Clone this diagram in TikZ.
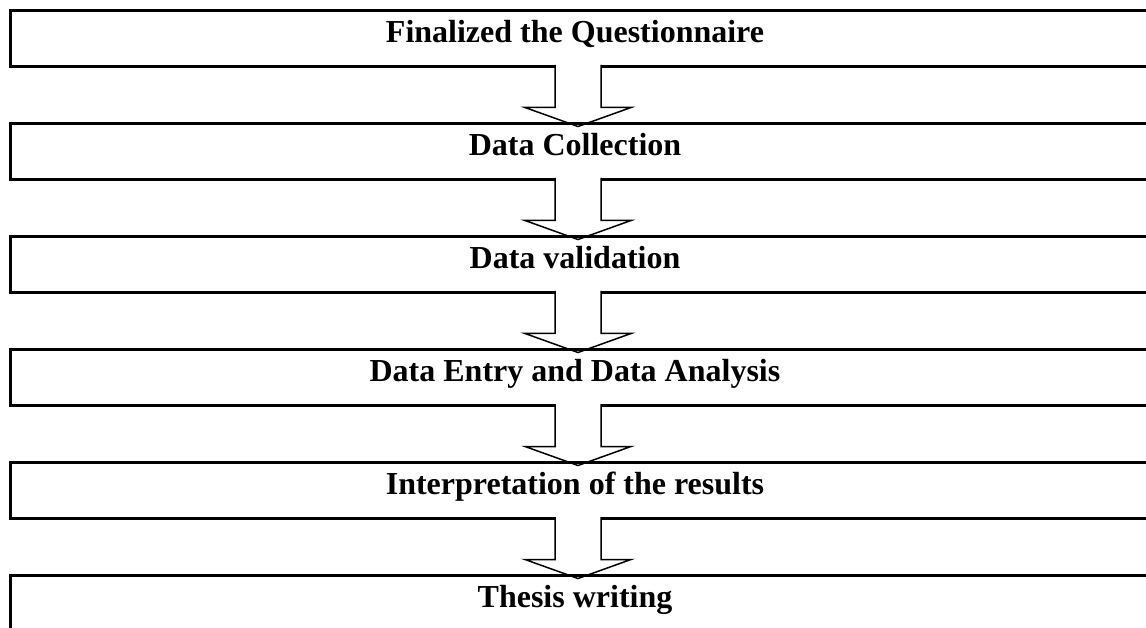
\documentclass[tikz,border=0pt]{standalone}
\usepackage{fontspec}
\setmainfont{Liberation Serif}
\usetikzlibrary{positioning,calc}

\tikzset{
  stepbox/.style={minimum width=1150pt, minimum height=56pt, inner sep=0pt, outer sep=0pt, anchor=north west},
  steplabel/.style={anchor=base, xshift=-10pt, yshift=-32pt, inner sep=0pt, font=\fontsize{32}{36}\selectfont\bfseries},
  boxline/.style={line width=3pt},
  arrowline/.style={line width=1.5pt, fill=white, line join=miter}
}
% block arrow from the bottom of one box into the top of the next
\newcommand{\flowarrow}[2]{%
  \draw[arrowline] let \p1=($(#1.south)+(-7,0)$), \p2=(#2.north) in
    (\x1-23pt,\y1+1.5pt) -- (\x1-23pt,\y2+16pt) -- (\x1-53pt,\y2+16pt) -- (\x1,\y2-3pt)
    -- (\x1+53pt,\y2+16pt) -- (\x1+23pt,\y2+16pt) -- (\x1+23pt,\y1+1.5pt);
}

\begin{document}
\begin{tikzpicture}[x=1pt,y=-1pt]
    \useasboundingbox (0,0) rectangle (1146,628);
    % Steps
    \node[stepbox, label={[steplabel]north:Finalized the Questionnaire}] (quest) at (10,10.5) {};
    \node[stepbox, below=57pt of quest, label={[steplabel]north:Data Collection}] (collect) {};
    \node[stepbox, below=57pt of collect, label={[steplabel]north:Data validation}] (valid) {};
    \node[stepbox, below=57pt of valid, label={[steplabel]north:Data Entry and Data Analysis}] (entry) {};
    \node[stepbox, below=57pt of entry, label={[steplabel]north:Interpretation of the results}] (interp) {};
    \node[stepbox, below=57pt of interp, label={[steplabel]north:Thesis writing}] (thesis) {};

    % Boxes and arrows, in drawing order
    \foreach \a/\b in {quest/collect, collect/valid, valid/entry, entry/interp, interp/thesis}{
        \draw[boxline] (\a.north west) rectangle (\a.south east);
        \flowarrow{\a}{\b}
    }
    \draw[boxline] (thesis.north west) rectangle (thesis.south east);
\end{tikzpicture}
\end{document}
